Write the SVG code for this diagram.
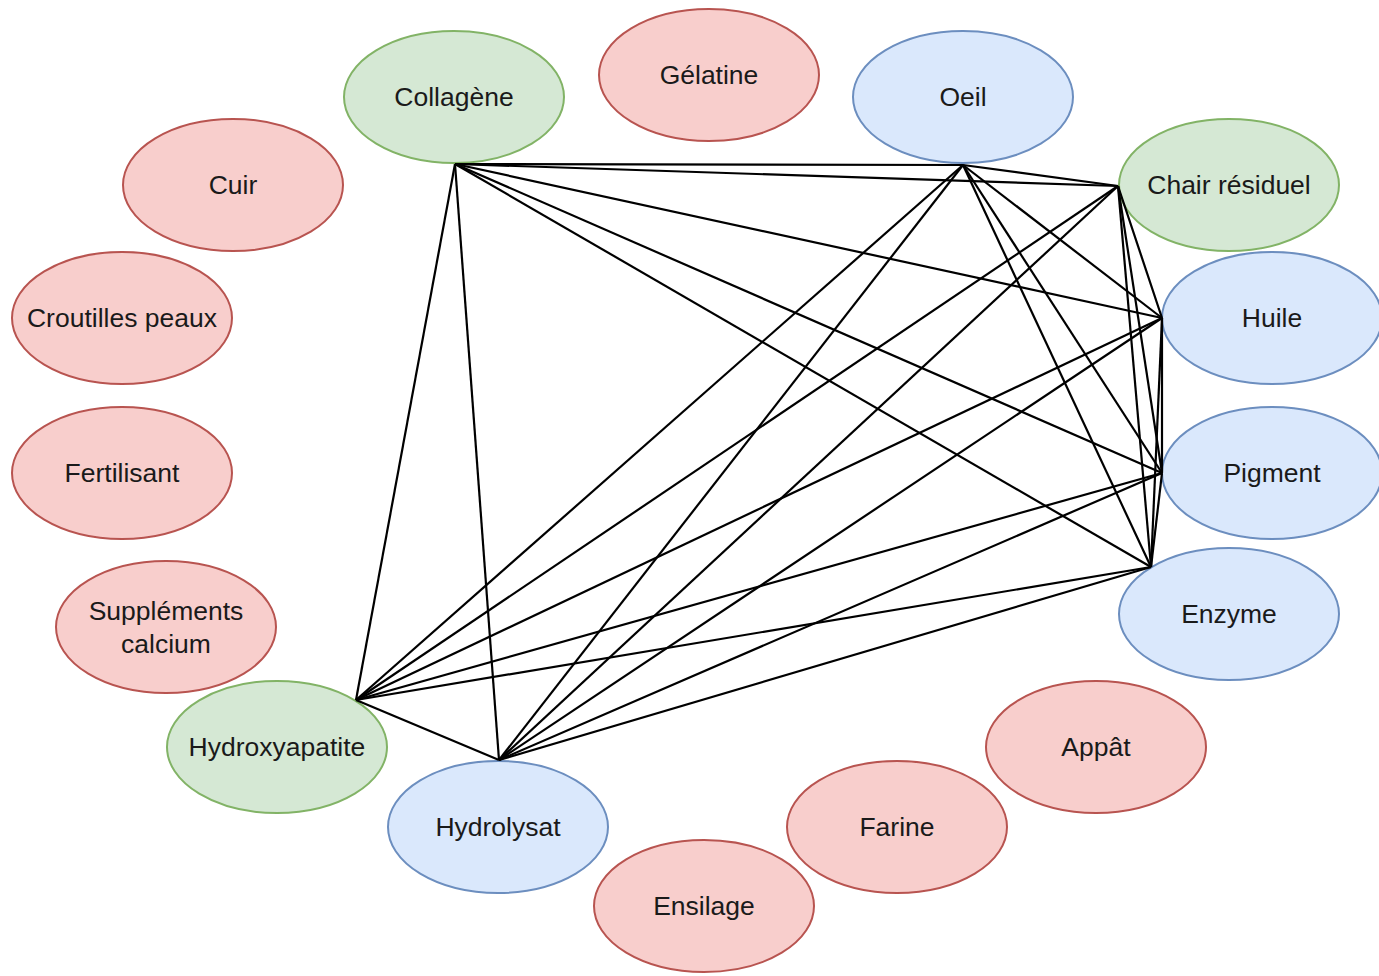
<svg xmlns="http://www.w3.org/2000/svg" width="1379" height="976" viewBox="0 0 1379 976">
<style>
.r{fill:#f8cecc;stroke:#b85450;stroke-width:2}
.g{fill:#d5e8d4;stroke:#82b366;stroke-width:2}
.b{fill:#dae8fc;stroke:#6c8ebf;stroke-width:2}
text{font-family:"Liberation Sans",Arial,sans-serif;font-size:26.5px;fill:#1a1a1a;text-anchor:middle;dominant-baseline:central}
.e line{stroke:#000;stroke-width:2.2}
</style>
<rect width="1379" height="976" fill="#fff"/>
<g id="collagene"><ellipse class="g" cx="454" cy="97" rx="110" ry="66"/><text x="454" y="97">Collagène</text></g>
<g id="gelatine"><ellipse class="r" cx="709" cy="75" rx="110" ry="66"/><text x="709" y="75">Gélatine</text></g>
<g id="oeil"><ellipse class="b" cx="963" cy="97" rx="110" ry="66"/><text x="963" y="97">Oeil</text></g>
<g id="chair"><ellipse class="g" cx="1229" cy="185" rx="110" ry="66"/><text x="1229" y="185">Chair résiduel</text></g>
<g id="huile"><ellipse class="b" cx="1272" cy="318" rx="110" ry="66"/><text x="1272" y="318">Huile</text></g>
<g id="pigment"><ellipse class="b" cx="1272" cy="473" rx="110" ry="66"/><text x="1272" y="473">Pigment</text></g>
<g id="enzyme"><ellipse class="b" cx="1229" cy="614" rx="110" ry="66"/><text x="1229" y="614">Enzyme</text></g>
<g id="appat"><ellipse class="r" cx="1096" cy="747" rx="110" ry="66"/><text x="1096" y="747">Appât</text></g>
<g id="farine"><ellipse class="r" cx="897" cy="827" rx="110" ry="66"/><text x="897" y="827">Farine</text></g>
<g id="ensilage"><ellipse class="r" cx="704" cy="906" rx="110" ry="66"/><text x="704" y="906">Ensilage</text></g>
<g id="hydrolysat"><ellipse class="b" cx="498" cy="827" rx="110" ry="66"/><text x="498" y="827">Hydrolysat</text></g>
<g id="hydroxyapatite"><ellipse class="g" cx="277" cy="747" rx="110" ry="66"/><text x="277" y="747">Hydroxyapatite</text></g>
<g id="supplements"><ellipse class="r" cx="166" cy="627" rx="110" ry="66"/><text x="166" y="611">Suppléments</text><text x="166" y="644">calcium</text></g>
<g id="fertilisant"><ellipse class="r" cx="122" cy="473" rx="110" ry="66"/><text x="122" y="473">Fertilisant</text></g>
<g id="croutilles"><ellipse class="r" cx="122" cy="318" rx="110" ry="66"/><text x="122" y="318">Croutilles peaux</text></g>
<g id="cuir"><ellipse class="r" cx="233" cy="185" rx="110" ry="66"/><text x="233" y="185">Cuir</text></g>
<g id="connectors" class="e">
<line x1="455" y1="164" x2="963" y2="165"/>
<line x1="455" y1="164" x2="1118" y2="186"/>
<line x1="455" y1="164" x2="1162" y2="318"/>
<line x1="455" y1="164" x2="1162" y2="473"/>
<line x1="455" y1="164" x2="1151" y2="567"/>
<line x1="455" y1="164" x2="356" y2="700"/>
<line x1="455" y1="164" x2="499" y2="760"/>
<line x1="963" y1="165" x2="1118" y2="186"/>
<line x1="963" y1="165" x2="1162" y2="318"/>
<line x1="963" y1="165" x2="1162" y2="473"/>
<line x1="963" y1="165" x2="1151" y2="567"/>
<line x1="963" y1="165" x2="356" y2="700"/>
<line x1="963" y1="165" x2="499" y2="760"/>
<line x1="1118" y1="186" x2="1162" y2="318"/>
<line x1="1118" y1="186" x2="1162" y2="473"/>
<line x1="1118" y1="186" x2="1151" y2="567"/>
<line x1="1118" y1="186" x2="356" y2="700"/>
<line x1="1118" y1="186" x2="499" y2="760"/>
<line x1="1162" y1="318" x2="1162" y2="473"/>
<line x1="1162" y1="318" x2="1151" y2="567"/>
<line x1="1162" y1="318" x2="356" y2="700"/>
<line x1="1162" y1="318" x2="499" y2="760"/>
<line x1="1162" y1="473" x2="1151" y2="567"/>
<line x1="1162" y1="473" x2="356" y2="700"/>
<line x1="1162" y1="473" x2="499" y2="760"/>
<line x1="1151" y1="567" x2="356" y2="700"/>
<line x1="1151" y1="567" x2="499" y2="760"/>
<line x1="356" y1="700" x2="499" y2="760"/>
</g>
</svg>
